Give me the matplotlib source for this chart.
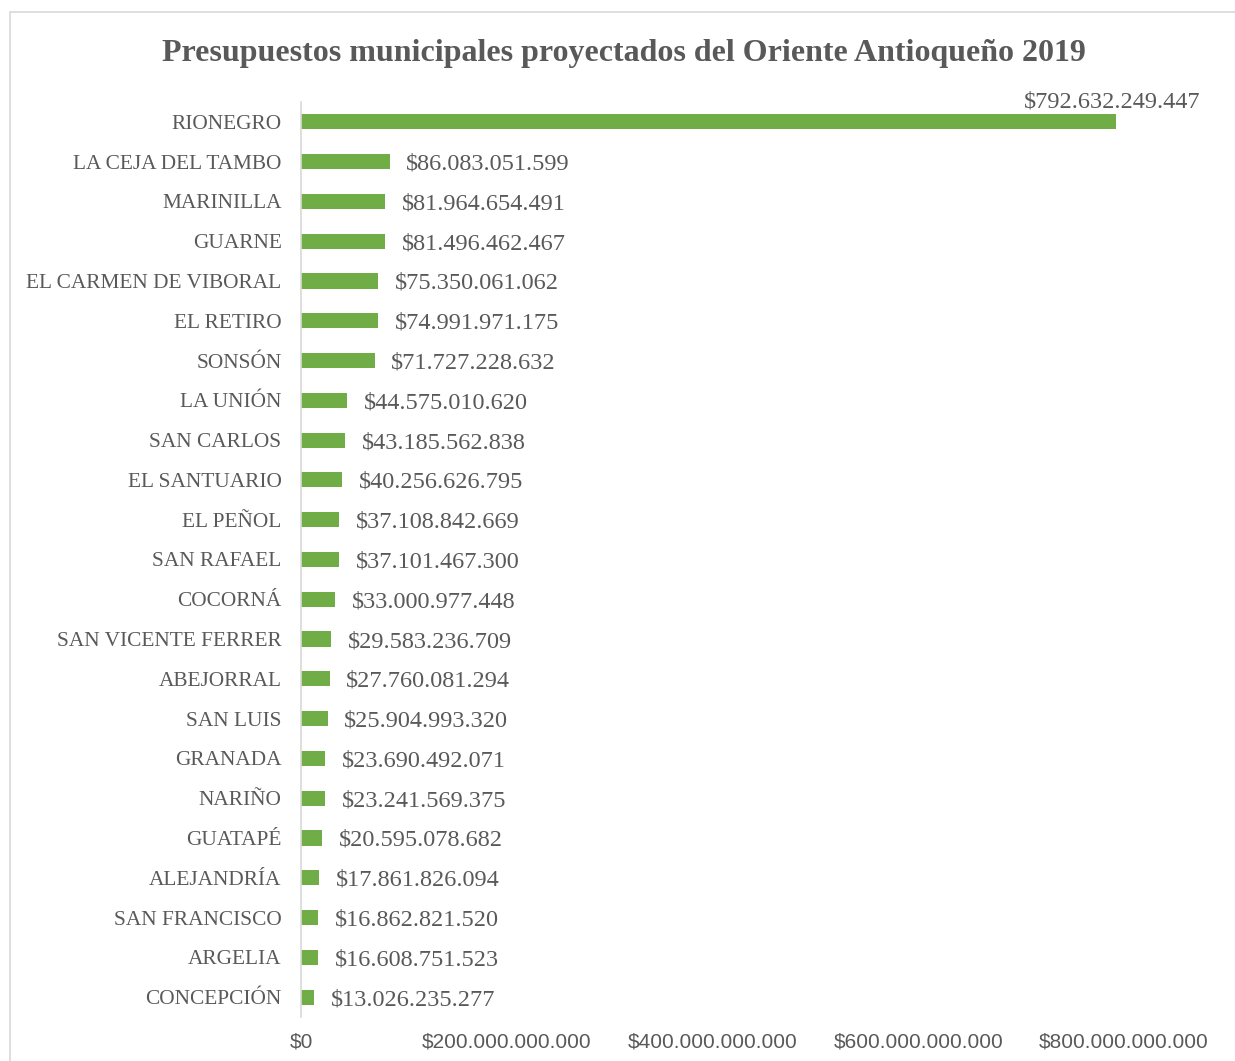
import numpy as np
import matplotlib
matplotlib.use('Agg')
import matplotlib.pyplot as plt
from matplotlib.patches import Rectangle
from matplotlib.ticker import FuncFormatter

# ── Data (top to bottom as in the chart) ─────────────────────
MUNICIPIOS = [
    'RIONEGRO', 'LA CEJA DEL TAMBO', 'MARINILLA', 'GUARNE',
    'EL CARMEN DE VIBORAL', 'EL RETIRO', 'SONSÓN', 'LA UNIÓN',
    'SAN CARLOS', 'EL SANTUARIO', 'EL PEÑOL', 'SAN RAFAEL',
    'COCORNÁ', 'SAN VICENTE FERRER', 'ABEJORRAL', 'SAN LUIS',
    'GRANADA', 'NARIÑO', 'GUATAPÉ', 'ALEJANDRÍA', 'SAN FRANCISCO',
    'ARGELIA', 'CONCEPCIÓN',
]
PRESUPUESTO = [
    792632249447, 86083051599, 81964654491, 81496462467,
    75350061062, 74991971175, 71727228632, 44575010620,
    43185562838, 40256626795, 37108842669, 37101467300,
    33000977448, 29583236709, 27760081294, 25904993320,
    23690492071, 23241569375, 20595078682, 17861826094,
    16862821520, 16608751523, 13026235277,
]
X_TICKS = [0, 200e9, 400e9, 600e9, 800e9]

TITLE = 'Presupuestos municipales proyectados del Oriente Antioqueño 2019'

GREEN = '#70AD47'
GRAY_TXT = '#595959'
GRAY_LINE = '#D9D9D9'
SERIF = ['Liberation Serif', 'DejaVu Serif']
SANS = ['Liberation Sans', 'DejaVu Sans']


def pesos(v):
    return '$' + f'{int(round(v)):,}'.replace(',', '.')


fig = plt.figure(figsize=(12.35, 10.61), dpi=100)
ax = fig.add_axes([0.2437, 0.0415, 0.6664, 0.8624])

# outer chart frame
fig.patches.append(Rectangle((10 / 1235, -0.05), 1.2, 1 - 12 / 1061 + 0.05,
                             transform=fig.transFigure, fill=False,
                             edgecolor=GRAY_LINE, linewidth=1.2))

y = np.arange(len(MUNICIPIOS))
bars = ax.barh(y, PRESUPUESTO, height=0.38, color=GREEN)

ax.set_xlim(0, 800e9)
ax.set_ylim(len(MUNICIPIOS) - 0.5, -0.5)

ax.set_yticks(y)
ax.set_yticklabels(MUNICIPIOS, family=SERIF, fontsize=15.4, color=GRAY_TXT)
ax.set_xticks(X_TICKS)
ax.xaxis.set_major_formatter(FuncFormatter(lambda v, p: pesos(v)))
for lbl in ax.get_xticklabels():
    lbl.set_family(SANS)
    lbl.set_fontsize(15)
    lbl.set_color(GRAY_TXT)
ax.tick_params(axis='y', length=0, pad=14)
ax.tick_params(axis='x', length=0, pad=11)

for s in ['top', 'right', 'bottom']:
    ax.spines[s].set_visible(False)
ax.spines['left'].set_color(GRAY_LINE)
ax.spines['left'].set_linewidth(1.2)

# value labels
for i, v in enumerate(PRESUPUESTO):
    if i == 0:
        ax.annotate(pesos(v), (v, i), xytext=(-3, 16), textcoords='offset points',
                    ha='center', va='center_baseline', family=SERIF, fontsize=17.5,
                    color=GRAY_TXT, annotation_clip=False)
    else:
        ax.annotate(pesos(v), (v, i), xytext=(12, 0), textcoords='offset points',
                    ha='left', va='center_baseline', family=SERIF, fontsize=17.5,
                    color=GRAY_TXT)

fig.text(0.505, 1 - 54 / 1061, TITLE, ha='center', va='center',
         family=SERIF, fontsize=23, fontweight='bold', color=GRAY_TXT)

fig.savefig('out.png', dpi=100)
